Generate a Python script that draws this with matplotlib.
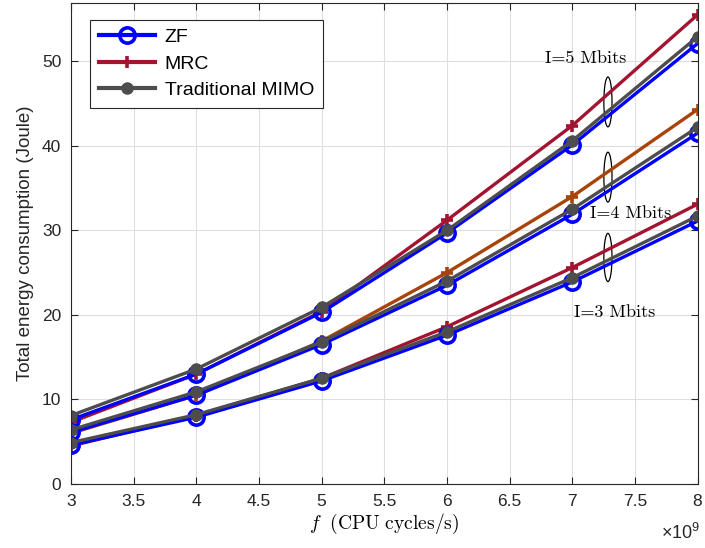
import numpy as np
import matplotlib
matplotlib.use("Agg")
import matplotlib.pyplot as plt
from matplotlib.patches import Ellipse

plt.rcParams['font.family'] = ['Liberation Sans', 'DejaVu Sans']
plt.rcParams['mathtext.fontset'] = 'custom'
plt.rcParams['mathtext.rm'] = 'Liberation Sans'

# CPU frequency (x 1e9 cycles/s)
f = [3, 4, 5, 6, 7, 8]

# I = 5 Mbits
zf_5 = [7.6, 13.0, 20.3, 29.7, 40.1, 52.1]
mrc_5 = [7.3, 13.0, 20.4, 31.2, 42.4, 55.5]
mimo_5 = [8.1, 13.6, 20.9, 30.0, 40.6, 52.9]

# I = 4 Mbits
zf_4 = [6.1, 10.5, 16.5, 23.5, 31.9, 41.5]
mrc_4 = [6.0, 10.5, 16.9, 25.0, 34.0, 44.3]
mimo_4 = [6.4, 10.9, 16.8, 24.0, 32.5, 42.2]

# I = 3 Mbits
zf_3 = [4.6, 7.9, 12.2, 17.6, 23.9, 31.1]
mrc_3 = [4.5, 8.1, 12.5, 18.6, 25.6, 33.1]
mimo_3 = [4.9, 8.2, 12.5, 18.0, 24.4, 31.7]

blue = '#0000FF'
crimson = '#A2142F'
orange = '#A8440A'
gray = '#4D4D4D'

fig = plt.figure(figsize=(7.05, 5.48), dpi=100)
ax = fig.add_axes([0.1007, 0.1168, 0.8887, 0.8777])

lw = 2.4
groups = [(zf_5, mrc_5, mimo_5, crimson),
          (zf_4, mrc_4, mimo_4, orange),
          (zf_3, mrc_3, mimo_3, crimson)]
handles = None
for zf, mrc, mimo, mcol in groups:
    h2, = ax.plot(f, mrc, '-', color=mcol, lw=lw, marker='+', ms=9, mew=2.6)
    h1, = ax.plot(f, zf, '-', color=blue, lw=lw, marker='o', ms=11,
                  mfc='none', mew=2.6)
    h3, = ax.plot(f, mimo, '-', color=gray, lw=lw, marker='o', ms=8,
                  mfc=gray, mec=gray)
    if handles is None:
        handles = [h1, h2, h3]

# ellipses marking the groups
ax.add_patch(Ellipse((7.285, 45.2), 0.065, 5.9, fill=False, color='black', lw=0.9))
ax.add_patch(Ellipse((7.285, 36.3), 0.065, 5.9, fill=False, color='black', lw=0.9))
ax.add_patch(Ellipse((7.285, 26.8), 0.065, 5.7, fill=False, color='black', lw=0.9))

ax.text(7.11, 50.4, 'I=5 Mbits', family='cmr10', fontsize=13,
        ha='center', va='center')
ax.text(7.47, 32.0, 'I=4 Mbits', family='cmr10', fontsize=13,
        ha='center', va='center')
ax.text(7.34, 20.3, 'I=3 Mbits', family='cmr10', fontsize=13,
        ha='center', va='center')

ax.set_xlim(3, 8)
ax.set_ylim(0, 56.9)
ax.set_xticks(np.arange(3, 8.01, 0.5))
ax.set_xticklabels(['%g' % v for v in np.arange(3, 8.01, 0.5)])
ax.set_yticks([0, 10, 20, 30, 40, 50])

ax.grid(True, color='#DFDFDF', lw=0.8)
ax.set_axisbelow(True)
ax.tick_params(direction='in', top=True, right=True, length=5,
               labelsize=12.5, colors='#262626', pad=7)
for s in ax.spines.values():
    s.set_color('#262626')
    s.set_linewidth(0.8)

ax.set_xlabel(r'$f\ \ \mathrm{(CPU\ cycles/s)}$', math_fontfamily='cm',
              fontsize=14, labelpad=2)
ax.set_ylabel('Total energy consumption (Joule)', fontsize=13.5, color='#262626',
              labelpad=6)
ax.text(1.005, -0.102, r'$\times10^{9}$', transform=ax.transAxes,
        ha='right', va='center', fontsize=13, color='#262626')

leg = ax.legend(handles, ['ZF', 'MRC', 'Traditional MIMO'], loc='upper left',
                bbox_to_anchor=(0.03, 0.965), borderaxespad=0, fontsize=14,
                fancybox=False, framealpha=1, edgecolor='#262626',
                handlelength=2.9, handletextpad=0.5, labelspacing=0.45,
                borderpad=0.45)
leg.get_frame().set_linewidth(0.8)
for ln in leg.get_lines():
    ln.set_linewidth(3.0)

fig.savefig('out.png', dpi=100)
